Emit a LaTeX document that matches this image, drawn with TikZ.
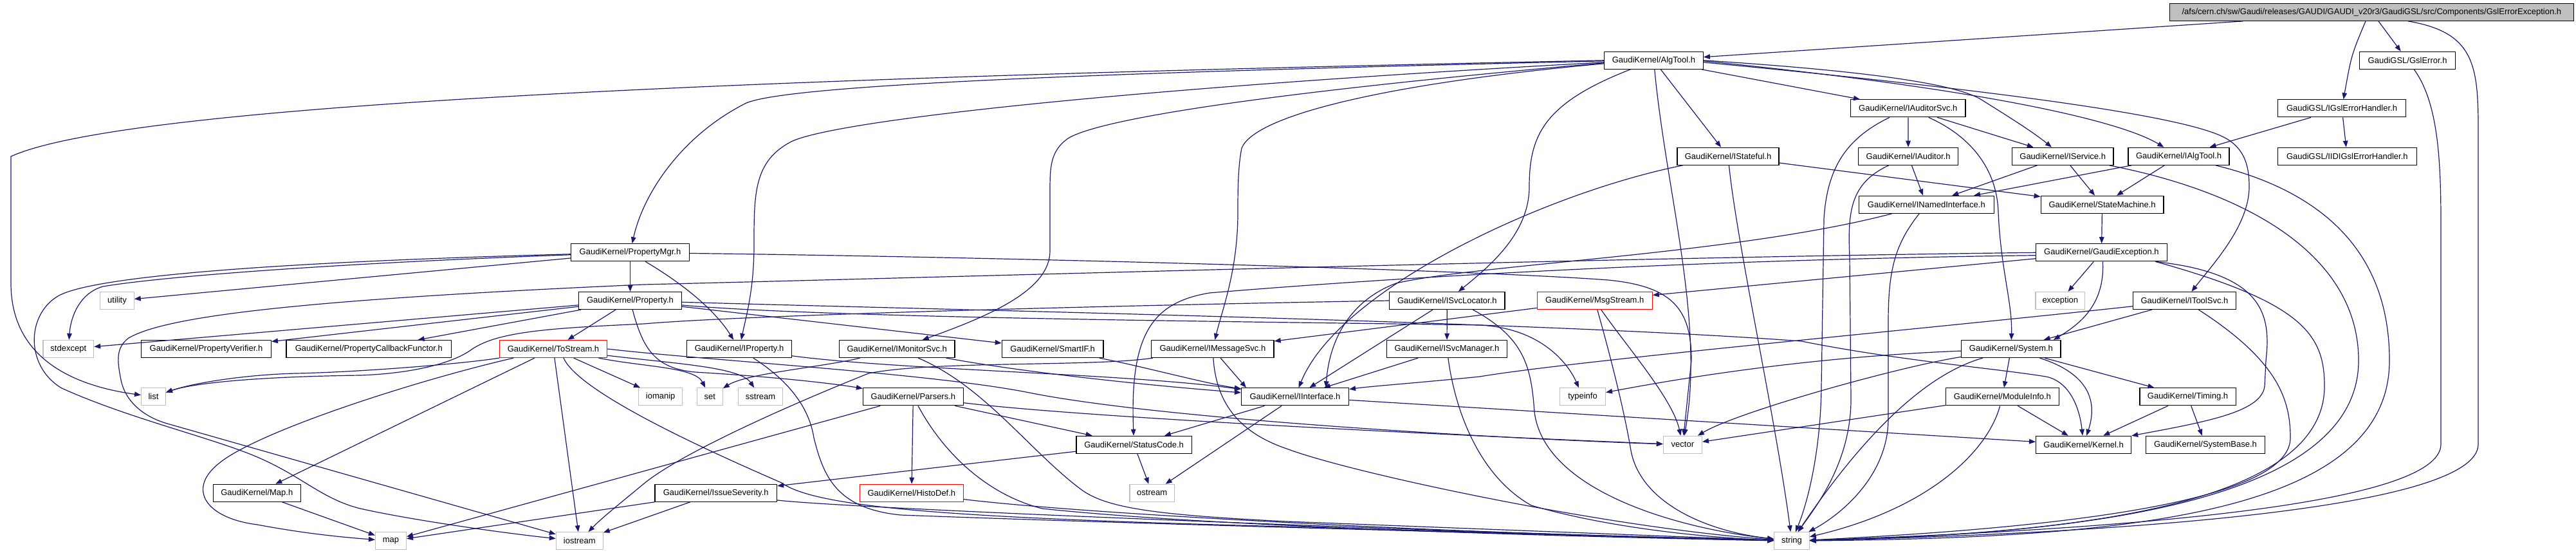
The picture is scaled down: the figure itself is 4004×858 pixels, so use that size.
\documentclass[tikz,border=0pt]{standalone}
\usepackage{fontspec}
\setmainfont{Liberation Sans}
\usetikzlibrary{arrows.meta}
\definecolor{edgeblue}{HTML}{191970}
\definecolor{sysgray}{HTML}{BFBFBF}
\tikzset{
  box/.style={draw=black, fill=white, line width=0.6pt, inner sep=0pt, minimum height=13.5pt, font=\fontsize{6.5pt}{7.8pt}\selectfont},
  wd/.style={minimum width=#1*0.5pt},
  hdr/.style={box},
  trunc/.style={box, draw=red},
  sysh/.style={box, draw=sysgray},
  rooth/.style={box, fill=sysgray},
  dep/.style={draw=edgeblue, line width=0.6pt, -{Triangle[length=5pt,width=3.8pt]}},
}
\begin{document}
\begin{tikzpicture}[x=0.5pt,y=-0.5pt]
\useasboundingbox (0,0) rectangle (4004,858);
\fill[white] (0,0) rectangle (4004,858);
% nodes
\node[rooth, wd=627.5] (root) at (3686.35,18.8) {/afs/cern.ch/sw/Gaudi/releases/GAUDI/GAUDI\_v20r3/GaudiGSL/src/Components/GslErrorException.h};
\node[hdr, wd=153.8] (AlgTool) at (2570.4,93.8) {GaudiKernel/AlgTool.h};
\node[hdr, wd=148.6] (GslError) at (3742.1,93.8) {GaudiGSL/GslError.h};
\node[hdr, wd=178.5] (IAuditorSvc) at (2965.8,168.3) {GaudiKernel/IAuditorSvc.h};
\node[hdr, wd=199.1] (IGslErrorHandler) at (3640,168.3) {GaudiGSL/IGslErrorHandler.h};
\node[hdr, wd=158] (IStateful) at (2686,242.8) {GaudiKernel/IStateful.h};
\node[hdr, wd=154.8] (IAuditor) at (2966.1,242.8) {GaudiKernel/IAuditor.h};
\node[hdr, wd=157.5] (IService) at (3206.2,242.8) {GaudiKernel/IService.h};
\node[hdr, wd=156.9] (IAlgTool) at (3386.5,242.8) {GaudiKernel/IAlgTool.h};
\node[hdr, wd=215.8] (IIDIGslErrorHandler) at (3648.3,242.8) {GaudiGSL/IIDIGslErrorHandler.h};
\node[hdr, wd=209.9] (INamedInterface) at (2994.3,317.8) {GaudiKernel/INamedInterface.h};
\node[hdr, wd=190.8] (StateMachine) at (3267.6,317.8) {GaudiKernel/StateMachine.h};
\node[hdr, wd=184.1] (PropertyMgr) at (979.5,392.3) {GaudiKernel/PropertyMgr.h};
\node[hdr, wd=203.6] (GaudiException) at (3266.4,392.3) {GaudiKernel/GaudiException.h};
\node[sysh, wd=52.3] (utility) at (182,467) {utility};
\node[hdr, wd=159.9] (Property) at (979.5,467) {GaudiKernel/Property.h};
\node[hdr, wd=179.4] (ISvcLocator) at (2249.3,467) {GaudiKernel/ISvcLocator.h};
\node[trunc, wd=178.8] (MsgStream) at (2478.8,467) {GaudiKernel/MsgStream.h};
\node[sysh, wd=76.8] (exception) at (3202.3,467) {exception};
\node[hdr, wd=159.4] (IToolSvc) at (3395.4,467) {GaudiKernel/IToolSvc.h};
\node[sysh, wd=78.6] (stdexcept) at (106.3,542) {stdexcept};
\node[hdr, wd=201.7] (PropertyVerifier) at (320.5,542) {GaudiKernel/PropertyVerifier.h};
\node[hdr, wd=256.6] (PropertyCallbackFunctor) at (573.3,542) {GaudiKernel/PropertyCallbackFunctor.h};
\node[trunc, wd=167.3] (ToStream) at (860,542) {GaudiKernel/ToStream.h};
\node[hdr, wd=162.8] (IProperty) at (1149.1,542) {GaudiKernel/IProperty.h};
\node[hdr, wd=179.4] (IMonitorSvc) at (1394.2,542) {GaudiKernel/IMonitorSvc.h};
\node[hdr, wd=157.7] (SmartIF) at (1636.2,542) {GaudiKernel/SmartIF.h};
\node[hdr, wd=190.3] (IMessageSvc) at (1884.9,542) {GaudiKernel/IMessageSvc.h};
\node[hdr, wd=187.7] (ISvcManager) at (2249,542) {GaudiKernel/ISvcManager.h};
\node[hdr, wd=154.3] (System) at (3125.9,542) {GaudiKernel/System.h};
\node[sysh, wd=37.7] (list) at (238.5,616.3) {list};
\node[sysh, wd=67.9] (iomanip) at (1026.7,616.3) {iomanip};
\node[sysh, wd=39.6] (set) at (1103.4,616.3) {set};
\node[sysh, wd=68.9] (sstream) at (1182,616.3) {sstream};
\node[hdr, wd=155.8] (Parsers) at (1419.4,616.3) {GaudiKernel/Parsers.h};
\node[hdr, wd=166.9] (IInterface) at (2013,616.3) {GaudiKernel/IInterface.h};
\node[sysh, wd=70.9] (typeinfo) at (2460,616.3) {typeinfo};
\node[hdr, wd=176.1] (ModuleInfo) at (3112.4,616.3) {GaudiKernel/ModuleInfo.h};
\node[hdr, wd=149.2] (Timing) at (3400.5,616.3) {GaudiKernel/Timing.h};
\node[hdr, wd=179.4] (StatusCode) at (1762.6,690.8) {GaudiKernel/StatusCode.h};
\node[sysh, wd=60] (vector) at (2615.4,690.8) {vector};
\node[hdr, wd=147.9] (Kernel) at (3238.6,690.8) {GaudiKernel/Kernel.h};
\node[hdr, wd=185.1] (SystemBase) at (3428,690.8) {GaudiKernel/SystemBase.h};
\node[hdr, wd=136] (Map) at (399.3,765.8) {GaudiKernel/Map.h};
\node[hdr, wd=189.6] (IssueSeverity) at (1112.7,765.8) {GaudiKernel/IssueSeverity.h};
\node[trunc, wd=160.9] (HistoDef) at (1416.9,765.8) {GaudiKernel/HistoDef.h};
\node[sysh, wd=69.6] (ostream) at (1790.7,765.8) {ostream};
\node[sysh, wd=47.9] (map) at (607.5,840.3) {map};
\node[sysh, wd=72.8] (iostream) at (900.8,840.3) {iostream};
\node[sysh, wd=54.3] (string) at (2785,840.3) {string};
% root
\draw[dep] ([xshift=-100pt]root.south) -- (AlgTool);
\draw[dep] ([xshift=5.3pt]root.south) -- (GslError);
\draw[dep] ([xshift=-4.7pt]root.south) .. controls (3655,85) .. (IGslErrorHandler);
\draw[dep] ([xshift=28.3pt]root.south) .. controls (3845,50) and (3852,100) .. (3852,200) -- (3852,690) .. controls (3852,790) and (3300,828) .. (string);
% GslError
\draw[dep] (GslError) .. controls (3790,160) and (3794,250) .. (3794,350) -- (3794,690) .. controls (3794,785) and (3300,822) .. (string);
% IGslErrorHandler
\draw[dep] (IGslErrorHandler) -- (IAlgTool);
\draw[dep] (IGslErrorHandler) -- (IIDIGslErrorHandler);
% AlgTool
\draw[dep] (AlgTool) -- (IAuditorSvc);
\draw[dep] (AlgTool.east) .. controls (2900,110) and (3040,130) .. (3080,155) .. controls (3120,180) and (3160,205) .. (IService);
\draw[dep] ([yshift=-0.5pt]AlgTool.east) .. controls (3100,140) and (3300,190) .. (IAlgTool);
\draw[dep] ([yshift=-1.5pt]AlgTool.east) .. controls (3100,140) and (3400,180) .. (3460,215) .. controls (3490,232) and (3496,260) .. (3496,290) .. controls (3496,350) and (3440,410) .. (IToolSvc);
\draw[dep] (AlgTool.west) .. controls (1200,120) and (200,160) .. (17,243) -- (17,440) .. controls (17,560) and (120,600) .. (list);
\draw[dep] ([yshift=-0.5pt]AlgTool.west) .. controls (1600,115) and (1220,135) .. (1160,160) .. controls (1060,210) and (1000,300) .. (PropertyMgr);
\draw[dep] ([yshift=-1.5pt]AlgTool.west) .. controls (1700,140) and (1290,190) .. (1230,220) .. controls (1172,250) and (1172,300) .. (1172,380) .. controls (1172,450) and (1160,490) .. (IProperty);
\draw[dep] ([yshift=-2pt]AlgTool.west) .. controls (1900,150) and (1700,190) .. (1660,215) .. controls (1632,235) and (1632,260) .. (1632,300) -- (1632,390) .. controls (1632,450) and (1540,490) .. (IMonitorSvc);
\draw[dep] ([yshift=-2.5pt]AlgTool.west) .. controls (2150,130) and (1950,180) .. (1930,230) .. controls (1924,260) and (1924,300) .. (1924,330) .. controls (1924,420) and (1900,480) .. (IMessageSvc);
\draw[dep] (AlgTool) .. controls (2400,160) and (2377,210) .. (2377,290) .. controls (2377,360) and (2320,410) .. (ISvcLocator);
\draw[dep] (AlgTool) .. controls (2590,300) and (2650,500) .. (vector);
\draw[dep] (AlgTool) -- (IStateful);
% IAuditorSvc
\draw[dep] (IAuditorSvc) -- (IAuditor);
\draw[dep] (IAuditorSvc) -- (IService);
\draw[dep] (IAuditorSvc) .. controls (3060,210) and (3104,260) .. (3106,330) .. controls (3110,420) and (3128,470) .. (System);
\draw[dep] (IAuditorSvc) .. controls (2870,215) and (2840,260) .. (2835,340) -- (2831,600) .. controls (2830,700) and (2810,780) .. (string);
% IStateful
\draw[dep] (IStateful) .. controls (2400,300) and (2080,450) .. (IInterface);
\draw[dep] (IStateful) -- (StateMachine);
\draw[dep] (IStateful) .. controls (2700,380) and (2760,650) .. (string);
% IAuditor
\draw[dep] (IAuditor) -- (INamedInterface);
\draw[dep] (IAuditor) .. controls (2875,285) and (2872,330) .. (2875,400) -- (2877,620) .. controls (2877,720) and (2820,790) .. (string);
% IService
\draw[dep] (IService) -- (INamedInterface);
\draw[dep] (IService) -- (StateMachine);
\draw[dep] (IService) .. controls (3500,300) and (3666,400) .. (3666,560) .. controls (3666,790) and (3200,830) .. (string);
% IAlgTool
\draw[dep] (IAlgTool) -- (INamedInterface);
\draw[dep] (IAlgTool) -- (StateMachine);
\draw[dep] (IAlgTool) .. controls (3620,300) and (3714,400) .. (3714,560) .. controls (3714,800) and (3300,835) .. (string);
% INamedInterface
\draw[dep] (INamedInterface) .. controls (2700,395) and (2300,410) .. (2170,440) .. controls (2090,470) and (2065,540) .. ([xshift=24pt]IInterface.north);
\draw[dep] (INamedInterface) .. controls (2945,380) and (2935,420) .. (2935,500) -- (2935,650) .. controls (2935,740) and (2860,800) .. (string);
% StateMachine
\draw[dep] (StateMachine) -- (GaudiException);
% GaudiException
\draw[dep] (GaudiException) -- (exception);
\draw[dep] ([xshift=1pt]GaudiException.south) .. controls (3272,475) and (3230,505) .. ([xshift=33pt]System.north);
\draw[dep] ([xshift=42pt]GaudiException.south) .. controls (3520,425) and (3530,490) .. (3522,560) -- (3520,600) .. controls (3515,640) and (3430,655) .. (Kernel);
\draw[dep] ([xshift=42pt]GaudiException.south) .. controls (3580,470) and (3613,520) .. (3613,600) .. controls (3613,790) and (3200,830) .. (string);
\draw[dep] ([yshift=-4.7pt]GaudiException.west) -- (MsgStream);
\draw[dep] ([yshift=-2.2pt]GaudiException.west) .. controls (2500,405) and (2000,445) .. (1880,455) .. controls (1790,470) and (1756,520) .. (StatusCode);
\draw[dep] (GaudiException.west) .. controls (2500,400) and (1500,430) .. (1000,442) .. controls (480,465) and (260,490) .. (200,525) .. controls (180,540) and (182,560) .. (188,590) .. controls (195,625) and (225,648) .. (260,658) -- (iostream);
% PropertyMgr
\draw[dep] (PropertyMgr) -- (Property);
\draw[dep] (PropertyMgr) .. controls (1060,440) and (1110,480) .. (IProperty);
\draw[dep] (PropertyMgr) .. controls (500,410) and (250,430) .. (160,445) .. controls (125,455) and (110,490) .. (stdexcept);
\draw[dep] (PropertyMgr) -- (utility);
\draw[dep] (PropertyMgr) .. controls (500,405) and (150,425) .. (90,460) .. controls (40,490) and (40,570) .. (96,603) .. controls (200,650) and (330,680) .. (400,710) .. controls (470,740) and (500,775) .. (560,790) .. controls (650,810) and (800,830) .. (iostream);
\draw[dep] (PropertyMgr) .. controls (1600,400) and (2300,420) .. (2500,435) .. controls (2600,445) and (2629,480) .. (2629,560) -- (vector);
% Property
\draw[dep] (Property) -- (stdexcept);
\draw[dep] (Property) -- (PropertyVerifier);
\draw[dep] (Property) -- (PropertyCallbackFunctor);
\draw[dep] (Property) -- (ToStream);
\draw[dep] (Property) -- (SmartIF);
\draw[dep] (Property) .. controls (1000,545) and (1020,572) .. (1080,578) .. controls (1200,585) and (1290,595) .. (Parsers);
\draw[dep] (Property) .. controls (1300,495) and (2000,500) .. (2300,505) .. controls (2400,510) and (2440,570) .. (typeinfo);
\draw[dep] (Property) .. controls (1500,482) and (2400,500) .. (2800,530) .. controls (2950,560) and (3100,572) .. (3180,585) .. controls (3215,592) and (3232,630) .. (Kernel);
% ToStream
\draw[dep] (ToStream) .. controls (650,590) and (400,670) .. (340,720) .. controls (290,760) and (320,805) .. (400,815) .. controls (480,830) and (540,835) .. (map);
\draw[dep] (ToStream) -- (Map);
\draw[dep] (ToStream) -- (iostream);
\draw[dep] (ToStream) -- (iomanip);
\draw[dep] (ToStream) .. controls (1000,570) and (1080,570) .. (set);
\draw[dep] (ToStream) .. controls (1050,565) and (1150,570) .. (sstream);
\draw[dep] (ToStream.south west) .. controls (720,565) and (560,578) .. (460,580) .. controls (380,582) and (300,595) .. (list);
\draw[dep] ([xshift=8pt]ToStream.south) .. controls (900,610) and (1100,700) .. (1215,750) .. controls (1270,790) and (1500,805) .. (2000,818) -- (string);
\draw[dep] (ToStream.east) .. controls (1100,560) and (1450,580) .. (1600,610) .. controls (1800,650) and (2300,680) .. (vector);
% Parsers
\draw[dep] (Parsers) -- (StatusCode);
\draw[dep] (Parsers) -- (HistoDef);
\draw[dep] (Parsers) .. controls (1470,710) and (1540,770) .. (1620,790) .. controls (1900,820) and (2500,835) .. (string);
\draw[dep] (Parsers) -- (map);
\draw[dep] (Parsers) .. controls (1700,650) and (2300,678) .. (vector);
% StatusCode
\draw[dep] (StatusCode) -- (IssueSeverity);
\draw[dep] (StatusCode) -- (ostream);
% IssueSeverity
\draw[dep] (IssueSeverity) -- (map);
\draw[dep] (IssueSeverity) -- (iostream);
\draw[dep] (IssueSeverity) .. controls (1320,790) and (2200,825) .. (string);
% HistoDef
\draw[dep] (HistoDef) .. controls (1700,800) and (2300,830) .. (string);
% IInterface
\draw[dep] (IInterface) -- (StatusCode);
\draw[dep] (IInterface) -- (ostream);
\draw[dep] (IInterface) -- (Kernel);
% System
\draw[dep] (System) -- (ModuleInfo);
\draw[dep] (System) -- (Timing);
\draw[dep] (System) .. controls (3230,575) and (3265,610) .. (Kernel);
\draw[dep] ([xshift=-22pt]System.south) .. controls (2980,585) and (2880,700) .. (string);
\draw[dep] (System) .. controls (2950,570) and (2700,640) .. (vector);
\draw[dep] (System) .. controls (2800,555) and (2600,590) .. (typeinfo);
% ModuleInfo
\draw[dep] (ModuleInfo) -- (Kernel);
\draw[dep] (ModuleInfo) -- (vector);
\draw[dep] (ModuleInfo) .. controls (3090,700) and (3000,790) .. (string);
% Timing
\draw[dep] (Timing) -- (Kernel);
\draw[dep] (Timing) -- (SystemBase);
% IToolSvc
\draw[dep] (IToolSvc) -- (System);
\draw[dep] (IToolSvc) .. controls (3000,510) and (2450,560) .. (2300,585) .. controls (2200,595) and (2130,600) .. (IInterface);
\draw[dep] (IToolSvc) .. controls (3540,560) and (3560,620) .. (3560,680) .. controls (3560,780) and (3200,820) .. (string);
% ISvcLocator
\draw[dep] (ISvcLocator) -- (IInterface);
\draw[dep] (ISvcLocator) -- (ISvcManager);
\draw[dep] ([xshift=20pt]ISvcLocator.south) .. controls (2370,525) and (2380,570) .. (2385,640) .. controls (2400,760) and (2600,820) .. (string);
\draw[dep] (ISvcLocator.west) .. controls (1700,475) and (1150,490) .. (1001,503) .. controls (850,510) and (770,515) .. (730,545) .. controls (700,565) and (640,580) .. (560,583) .. controls (400,585) and (300,595) .. (list);
% ISvcManager
\draw[dep] (ISvcManager) -- (IInterface);
\draw[dep] (ISvcManager) .. controls (2262,640) and (2300,740) .. (2380,785) .. controls (2500,820) and (2650,835) .. (string);
% IMessageSvc
\draw[dep] (IMessageSvc) -- ([xshift=-38pt]IInterface.north);
\draw[dep] (IMessageSvc) .. controls (1890,620) and (1920,670) .. (2000,697) .. controls (2100,735) and (2500,820) .. (string);
\draw[dep] (IMessageSvc) .. controls (1700,570) and (1450,560) .. (1350,580) .. controls (1200,640) and (1050,710) .. (1000,752) .. controls (960,785) and (935,805) .. (iostream);
% IMonitorSvc
\draw[dep] (IMonitorSvc) .. controls (1600,580) and (1800,600) .. (IInterface);
\draw[dep] (IMonitorSvc) .. controls (1280,570) and (1160,580) .. (set);
\draw[dep] (IMonitorSvc) .. controls (1530,600) and (1600,700) .. (1680,760) .. controls (1720,790) and (1800,800) .. (2000,810) -- (string);
% IProperty
\draw[dep] (IProperty) .. controls (1400,575) and (1750,580) .. (IInterface);
\draw[dep] (IProperty) .. controls (1200,575) and (1255,615) .. (1265,680) .. controls (1280,740) and (1300,790) .. (1400,800) .. controls (1800,815) and (2400,830) .. (string);
% SmartIF
\draw[dep] (SmartIF) .. controls (1780,570) and (1870,595) .. (IInterface);
% MsgStream
\draw[dep] (MsgStream) -- (IMessageSvc);
\draw[dep] (MsgStream) .. controls (2530,540) and (2600,620) .. (vector);
\draw[dep] (MsgStream) .. controls (2505,560) and (2525,640) .. (2535,700) .. controls (2550,780) and (2650,825) .. (string);
% Map
\draw[dep] (Map) -- (map);
\end{tikzpicture}
\end{document}
